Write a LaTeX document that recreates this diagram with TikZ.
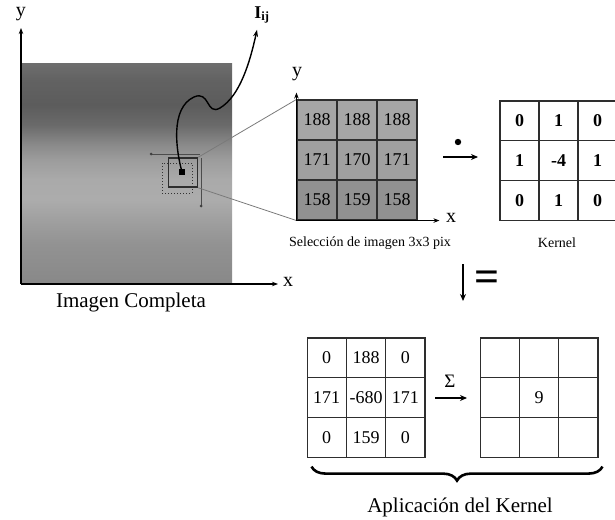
\documentclass[tikz,border=0pt]{standalone}
\usepackage{fontspec}
\setmainfont{Liberation Serif}
\usetikzlibrary{arrows.meta,decorations.pathreplacing}

% grey tones of the full image, bottom to top
\definecolor{sA}{HTML}{888888}
\definecolor{sB}{HTML}{929292}
\definecolor{sC}{HTML}{A0A0A0}
\definecolor{sD}{HTML}{ACACAC}
\definecolor{sE}{HTML}{AAAAAA}
\definecolor{sF}{HTML}{9C9C9C}
\definecolor{sG}{HTML}{8A8A8A}
\definecolor{sH}{HTML}{6A6A6A}
\definecolor{sI}{HTML}{5C5C5C}
\definecolor{sJ}{HTML}{626262}
\definecolor{sK}{HTML}{6E6E6E}
\pgfdeclareverticalshading{imgshade}{100bp}{%
  color(0bp)=(sA); color(25bp)=(sA); color(34bp)=(sB); color(39.6bp)=(sC);
  color(44.1bp)=(sD); color(48.6bp)=(sE); color(53.2bp)=(sF); color(56.5bp)=(sG);
  color(61bp)=(sH); color(65.5bp)=(sI); color(71.2bp)=(sJ); color(75bp)=(sK);
  color(100bp)=(sK)}

\definecolor{gridc}{HTML}{2E2E2E}
\definecolor{linkc}{HTML}{7A7A7A}
\definecolor{rowA}{HTML}{A6A6A6}
\definecolor{rowB}{HTML}{A0A0A0}
\definecolor{rowC}{HTML}{919191}

\newcommand\numfont{\fontsize{18}{20}\selectfont}
\newcommand\capfont{\fontsize{14}{16}\selectfont}
\newcommand\bigfont{\fontsize{21}{24}\selectfont}
\newcommand\axfont{\fontsize{20}{22}\selectfont}

\tikzset{
  axis/.style={line width=1.3pt, -{Stealth[length=6pt,width=4.5pt]}},
  cell/.style={draw=gridc, line width=1.1pt, minimum width=39.5pt,
               minimum height=39.5pt, inner sep=0pt, font=\numfont},
  link/.style={draw=linkc, line width=0.8pt},
  thinaxis/.style={draw=black!70, line width=0.6pt},
  opar/.style={line width=1.6pt, -{Stealth[length=7pt,width=6pt]}},
  lbl/.style={inner sep=0pt}
}

\begin{document}
\begin{tikzpicture}[x=1pt,y=-1pt]
\useasboundingbox (0,0) rectangle (615,519);

% ---------- full image ----------
\shade[shading=imgshade] (22,63) rectangle (232,284);
\coordinate (O) at (21,284);
\coordinate (ytip) at (21,28);
\coordinate (xtip) at (278,284);
\draw[axis] (O) -- (ytip);
\draw[axis] (O) -- (xtip);
\node[lbl, font=\axfont] (ylab) at (21,14) {y};
\node[lbl, font=\axfont] (xlab) at (288,282) {x};
\node[lbl, font=\bigfont] (full) at (131,302) {Imagen Completa};

% selected window and neighbourhood
\node[draw=black!80, dotted, line width=1pt, minimum size=30pt, inner sep=0pt] (win2) at (177,178) {};
\node[draw=gridc, line width=1.6pt, minimum size=29pt, inner sep=0pt] (win) at (183,172.5) {};
\node[fill=black, minimum size=6pt, inner sep=0pt] (pix) at (182,172) {};
\coordinate (hx0) at (151,154);
\coordinate (hx1) at (200,154);
\coordinate (vy0) at (201,158);
\coordinate (vy1) at (201,206);
\draw[thinaxis] (hx0) -- (hx1);
\draw[thinaxis] (vy0) -- (vy1);
\fill[black!75] (hx0) circle (1.5);
\fill[black!75] (vy1) circle (1.5);

% pixel label and its pointer
\node[lbl, font=\fontsize{18}{20}\selectfont\bfseries] (iij) at (262,15) {I\textsubscript{ij}};
\draw[line width=1.4pt, -{Stealth[length=7pt,width=5pt]}]
  (pix.center) .. controls (176,150) and (170,108) .. (194,97)
  .. controls (210,90) and (206,116) .. (220,108)
  .. controls (240,96) and (250,62) .. ([xshift=-5pt,yshift=-6pt]iij.south);

% ---------- 3x3 selection ----------
\foreach \v [count=\k from 0] in {188,188,188,171,170,171,158,159,158}{
  \pgfmathtruncatemacro\r{int(\k/3)}
  \pgfmathtruncatemacro\c{mod(\k,3)}
  \ifcase\r \def\fc{rowA}\or \def\fc{rowB}\else \def\fc{rowC}\fi
  \node[cell, fill=\fc, minimum width=40pt, minimum height=40pt]
    (s-\r-\c) at ({317+40*\c},{120+40*\r}) {\v};
}
\draw[link] (win.north east) -- (s-0-0.north west);
\draw[link] (win.south east) -- (s-2-0.south west);
\draw[axis, line width=1pt] (s-2-0.south west) -- ++(0,-128) coordinate (sy);
\draw[axis, line width=1pt] (s-2-0.south west) -- ++(143,0) coordinate (sx);
\node[lbl, font=\axfont] (sylab) at (297,74) {y};
\node[lbl, font=\axfont] (sxlab) at (451,218) {x};
\node[lbl, font=\capfont] (selcap) at (370,243) {Selección de imagen 3x3 pix};

% ---------- kernel ----------
\foreach \v [count=\k from 0] in {0,1,0,1,-4,1,0,1,0}{
  \pgfmathtruncatemacro\r{int(\k/3)}
  \pgfmathtruncatemacro\c{mod(\k,3)}
  \node[cell, minimum width=39pt, minimum height=39.7pt, font=\numfont\bfseries]
    (k-\r-\c) at ({519.5+39*\c},{120.8+39.7*\r}) {\v};
}
\node[lbl, font=\capfont] (kcap) at (557,243) {Kernel};

% product operator
\coordinate (pa) at (443,157);
\coordinate (pb) at (478,157);
\draw[opar] (pa) -- (pb);
\fill (458,142) circle (3.2);

% equals operator
\coordinate (da) at (463,264);
\coordinate (db) at (463,301);
\draw[opar] (da) -- (db);
\node[lbl, font=\fontsize{44}{44}\selectfont\bfseries] (eq) at (487,281) {=};

% ---------- kernel applied ----------
\foreach \v [count=\k from 0] in {0,188,0,171,-680,171,0,159,0}{
  \pgfmathtruncatemacro\r{int(\k/3)}
  \pgfmathtruncatemacro\c{mod(\k,3)}
  \node[cell, minimum width=39.3pt, minimum height=39.7pt]
    (a-\r-\c) at ({326.7+39.3*\c},{357.8+39.7*\r}) {\v};
}
\foreach \k in {0,...,8}{
  \pgfmathtruncatemacro\r{int(\k/3)}
  \pgfmathtruncatemacro\c{mod(\k,3)}
  \node[cell, minimum width=39.3pt, minimum height=39.7pt]
    (r-\r-\c) at ({499.7+39.3*\c},{357.8+39.7*\r}) {\ifnum\k=4 9\fi};
}

% sum operator
\coordinate (sa) at (435,398);
\coordinate (sb) at (467,398);
\draw[opar] (sa) -- (sb);
\node[lbl, font=\fontsize{19}{20}\selectfont] (sig) at (450,381) {Σ};

% brace and caption
\draw[line width=2.6pt, decorate, decoration={brace, amplitude=14pt}]
  ([xshift=4pt,yshift=-9pt]r-2-2.south east) -- ([xshift=5pt,yshift=-9pt]a-2-0.south west);
\node[lbl, font=\bigfont] (apcap) at (460,507) {Aplicación del Kernel};
\end{tikzpicture}
\end{document}
